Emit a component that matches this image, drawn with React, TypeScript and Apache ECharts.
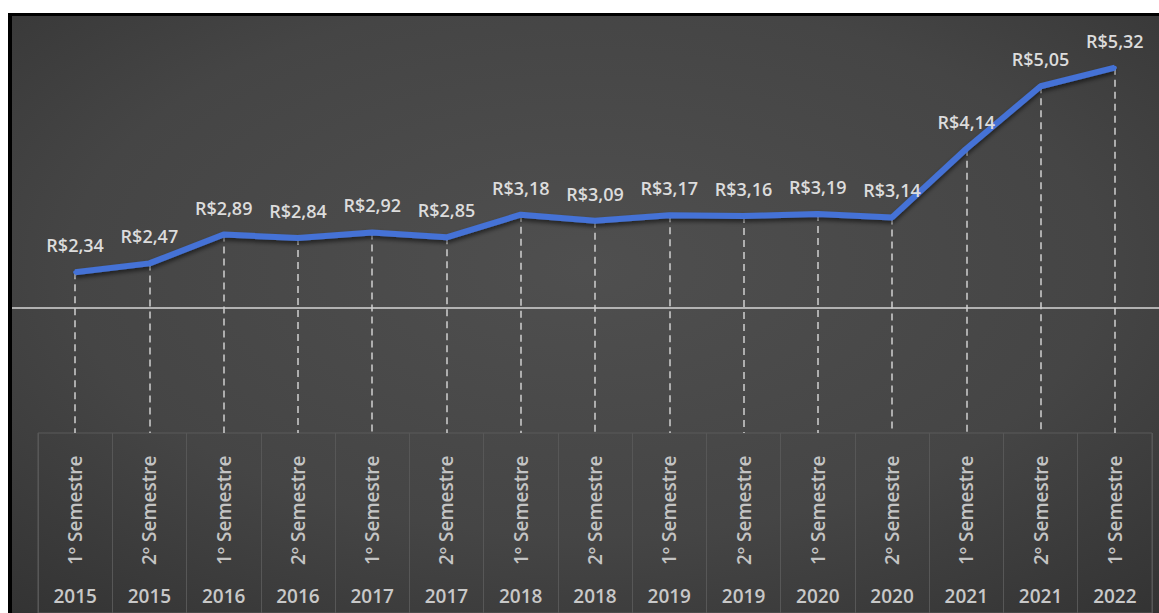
import React, { useEffect, useRef } from "react";
import * as echarts from "echarts";

const semesters = [
  "1º Semestre", "2º Semestre", "1º Semestre", "2º Semestre", "1º Semestre",
  "2º Semestre", "1º Semestre", "2º Semestre", "1º Semestre", "2º Semestre",
  "1º Semestre", "2º Semestre", "1º Semestre", "2º Semestre", "1º Semestre",
];
const years = [
  "2015", "2015", "2016", "2016", "2017", "2017", "2018", "2018",
  "2019", "2019", "2020", "2020", "2021", "2021", "2022",
];
const values = [2.34, 2.47, 2.89, 2.84, 2.92, 2.85, 3.18, 3.09, 3.17, 3.16, 3.19, 3.14, 4.14, 5.05, 5.32];

const FONT = "'Open Sans', 'Noto Sans', sans-serif";

export default function App() {
  const ref = useRef<HTMLDivElement>(null);

  useEffect(() => {
    if (!ref.current) return;
    const chart = echarts.init(ref.current, undefined, { renderer: "svg" });
    const dropLines = values.map((v, i) => [
      { coord: [i, v] },
      { coord: [i, 0] },
    ]);
    chart.setOption({
      animation: false,
      backgroundColor: new echarts.graphic.RadialGradient(0.5, 0.42, 1.0, [
        { offset: 0, color: "#4f4f4f" },
        { offset: 0.45, color: "#454545" },
        { offset: 0.75, color: "#343434" },
        { offset: 1, color: "#222222" },
      ]),
      grid: [
        { left: 26, right: 7, top: 5, bottom: 180 },
        {
          left: 26, right: 7, top: 417, bottom: 0,
          show: true, borderColor: "#5a5a5a", borderWidth: 1,
          backgroundColor: "transparent",
        },
        { left: 26, right: 7, top: 417, bottom: 0 },
      ],
      xAxis: [
        {
          type: "category", gridIndex: 0, data: semesters, boundaryGap: true,
          axisLine: { show: false }, axisTick: { show: false },
          axisLabel: { show: false }, splitLine: { show: false },
        },
        {
          type: "category", gridIndex: 1, data: semesters, boundaryGap: true,
          position: "bottom",
          axisLine: { show: false }, axisTick: { show: false },
          splitLine: { show: true, interval: 0, lineStyle: { color: "#575757", width: 1 } },
          axisLabel: {
            inside: true, rotate: 90, margin: 48, interval: 0,
            color: "#c4c4c4", fontSize: 19, fontWeight: 600, fontFamily: FONT,
          },
        },
        {
          type: "category", gridIndex: 2, data: years, boundaryGap: true,
          position: "bottom",
          axisLine: { show: false }, axisTick: { show: false },
          splitLine: { show: false },
          axisLabel: {
            inside: true, margin: 8, interval: 0,
            color: "#c8c8c8", fontSize: 19, fontWeight: 600, fontFamily: FONT,
          },
        },
      ],
      yAxis: [
        { type: "value", gridIndex: 0, min: 0, max: 6, show: false },
        { type: "value", gridIndex: 1, show: false },
        { type: "value", gridIndex: 2, show: false },
      ],
      graphic: [
        {
          type: "line",
          shape: { x1: 0, y1: 292, x2: 1147, y2: 292 },
          style: { stroke: "#d6d6d6", lineWidth: 1.5 },
          z: 1,
        },
      ],
      series: [
        {
          type: "line",
          xAxisIndex: 0,
          yAxisIndex: 0,
          data: values,
          z: 4,
          symbol: "circle",
          symbolSize: 4,
          showSymbol: true,
          itemStyle: { color: "#4472d6" },
          lineStyle: {
            color: "#4472d6", width: 6,
            shadowColor: "rgba(0,0,0,0.55)", shadowBlur: 4, shadowOffsetY: 3,
          },
          label: {
            show: true, position: "top", distance: 16,
            color: "#dcdcdc", fontSize: 18, fontWeight: 600, fontFamily: FONT,
            formatter: (p: any) => "R$" + Number(p.value).toFixed(2).replace(".", ","),
          },
          markLine: {
            z: 1,
            silent: true,
            symbol: ["none", "none"],
            label: { show: false },
            lineStyle: { color: "#d0d0d0", type: [7, 5], width: 1.5 },
            data: dropLines,
          },
        },
      ],
    });
    return () => chart.dispose();
  }, []);

  return (
    <div style={{ position: "absolute", left: 0, top: 0, width: 1159, height: 613, background: "#ffffff", overflow: "hidden" }}>
      <div style={{ position: "absolute", left: 8, top: 13, width: 1151, height: 600, background: "#000000" }}>
        <div ref={ref} style={{ position: "absolute", left: 4, top: 3, width: 1147, height: 597 }} />
      </div>
    </div>
  );
}
